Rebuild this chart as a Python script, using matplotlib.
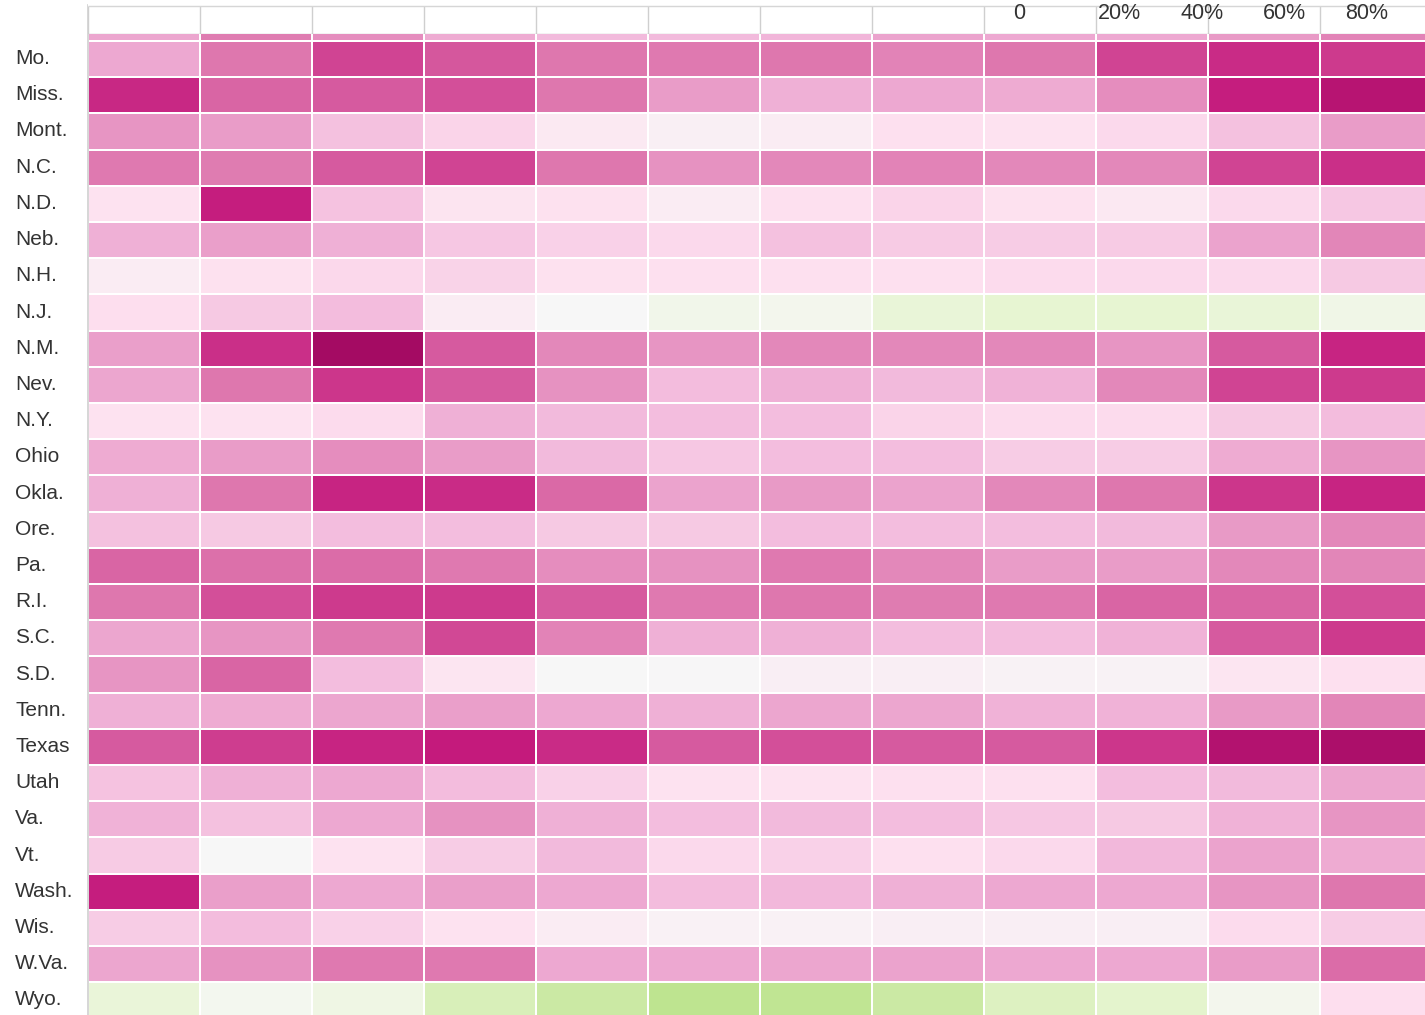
import matplotlib
matplotlib.use("Agg")
import matplotlib.pyplot as plt
import matplotlib.transforms as mtransforms
import numpy as np

plt.rcParams["font.family"] = ["Liberation Sans", "DejaVu Sans"]

# ---------------- data ----------------
states = ["Minn.", "Mo.", "Miss.", "Mont.", "N.C.", "N.D.", "Neb.", "N.H.", "N.J.",
          "N.M.", "Nev.", "N.Y.", "Ohio", "Okla.", "Ore.", "Pa.", "R.I.", "S.C.",
          "S.D.", "Tenn.", "Texas", "Utah", "Va.", "Vt.", "Wash.", "Wis.", "W.Va.", "Wyo."]

# change per state, 12 periods (fraction, -1..1)
change = [
    [0.45, 0.58, 0.53, 0.43, 0.38, 0.38, 0.40, 0.46, 0.44, 0.44, 0.49, 0.56],  # Minn.
    [0.44, 0.60, 0.71, 0.67, 0.60, 0.59, 0.60, 0.56, 0.60, 0.71, 0.76, 0.73],  # Mo.
    [0.77, 0.64, 0.66, 0.68, 0.60, 0.48, 0.42, 0.44, 0.43, 0.53, 0.79, 0.85],  # Miss.
    [0.50, 0.48, 0.35, 0.25, 0.12, 0.07, 0.10, 0.20, 0.18, 0.23, 0.35, 0.48],  # Mont.
    [0.59, 0.58, 0.66, 0.71, 0.60, 0.51, 0.54, 0.56, 0.54, 0.54, 0.71, 0.75],  # N.C.
    [0.18, 0.79, 0.34, 0.17, 0.19, 0.10, 0.20, 0.25, 0.19, 0.13, 0.23, 0.32],  # N.D.
    [0.42, 0.47, 0.42, 0.32, 0.27, 0.23, 0.35, 0.30, 0.29, 0.30, 0.46, 0.55],  # Neb.
    [0.10, 0.19, 0.24, 0.26, 0.19, 0.20, 0.20, 0.20, 0.22, 0.23, 0.23, 0.31],  # N.H.
    [0.21, 0.31, 0.37, 0.10, 0.00, -0.07, -0.05, -0.16, -0.19, -0.19, -0.16, -0.08],  # N.J.
    [0.47, 0.75, 0.92, 0.66, 0.54, 0.50, 0.54, 0.54, 0.54, 0.50, 0.66, 0.78],  # N.M.
    [0.45, 0.60, 0.74, 0.66, 0.51, 0.37, 0.42, 0.38, 0.41, 0.54, 0.71, 0.73],  # Nev.
    [0.18, 0.18, 0.22, 0.42, 0.38, 0.36, 0.36, 0.25, 0.22, 0.22, 0.31, 0.37],  # N.Y.
    [0.43, 0.48, 0.53, 0.48, 0.38, 0.32, 0.36, 0.36, 0.29, 0.29, 0.43, 0.50],  # Ohio
    [0.42, 0.60, 0.78, 0.76, 0.63, 0.46, 0.49, 0.46, 0.54, 0.60, 0.74, 0.78],  # Okla.
    [0.35, 0.31, 0.36, 0.36, 0.31, 0.31, 0.36, 0.36, 0.36, 0.38, 0.49, 0.54],  # Ore.
    [0.64, 0.61, 0.62, 0.59, 0.53, 0.51, 0.59, 0.54, 0.48, 0.48, 0.54, 0.55],  # Pa.
    [0.60, 0.68, 0.73, 0.73, 0.66, 0.59, 0.60, 0.58, 0.59, 0.64, 0.64, 0.68],  # R.I.
    [0.45, 0.50, 0.59, 0.70, 0.56, 0.42, 0.42, 0.36, 0.36, 0.41, 0.66, 0.73],  # S.C.
    [0.50, 0.64, 0.36, 0.16, 0.00, 0.01, 0.08, 0.08, 0.04, 0.04, 0.15, 0.20],  # S.D.
    [0.42, 0.43, 0.45, 0.47, 0.44, 0.42, 0.45, 0.45, 0.41, 0.41, 0.49, 0.55],  # Tenn.
    [0.66, 0.72, 0.78, 0.80, 0.76, 0.66, 0.68, 0.66, 0.66, 0.74, 0.86, 0.89],  # Texas
    [0.34, 0.42, 0.44, 0.37, 0.27, 0.18, 0.18, 0.20, 0.20, 0.36, 0.38, 0.45],  # Utah
    [0.41, 0.35, 0.44, 0.51, 0.42, 0.36, 0.38, 0.36, 0.32, 0.31, 0.41, 0.50],  # Va.
    [0.30, 0.00, 0.18, 0.29, 0.38, 0.23, 0.27, 0.20, 0.23, 0.39, 0.46, 0.43],  # Vt.
    [0.79, 0.47, 0.44, 0.47, 0.44, 0.37, 0.39, 0.42, 0.44, 0.44, 0.50, 0.60],  # Wash.
    [0.29, 0.37, 0.27, 0.18, 0.10, 0.05, 0.05, 0.08, 0.08, 0.08, 0.22, 0.29],  # Wis.
    [0.45, 0.51, 0.59, 0.59, 0.44, 0.44, 0.45, 0.46, 0.44, 0.44, 0.48, 0.62],  # W.Va.
    [-0.15, -0.04, -0.10, -0.26, -0.32, -0.37, -0.36, -0.32, -0.24, -0.21, -0.05, 0.21],  # Wyo.
]

legend_ticks = ["0", "20%", "40%", "60%", "80%"]

# ---------------- layout (pixels) ----------------
W, H = 1425, 1015
left, col_w = 88, 112
row_top, row_h = 4.8, 36.2
header_h = 34
grid_grey = "#cfcfcf"

data = np.array(change)
n_rows, n_cols = data.shape

fig = plt.figure(figsize=(W / 100, H / 100), dpi=100)
fig.patch.set_facecolor("white")

bottom = row_top + n_rows * row_h
ax = fig.add_axes([left / W, 1 - bottom / H, n_cols * col_w / W, (bottom - row_top) / H])
ax.pcolormesh(data, cmap="PiYG_r", vmin=-1, vmax=1, edgecolors="white", linewidth=1.1)
ax.set_xlim(0, n_cols)
ax.set_ylim(n_rows, 0)
for s in ax.spines.values():
    s.set_visible(False)
ax.set_xticks([])
labels = [""] + states[1:]  # first row sits under the header
ax.set_yticks(np.arange(n_rows) + 0.5)
ax.set_yticklabels(labels, fontsize=15, color="#333333", ha="left")
ax.tick_params(axis="y", length=0, pad=(left - 15) * 0.72)
# labels sit a touch above the row centre
lift = mtransforms.ScaledTranslation(0, 2.5 / 100, fig.dpi_scale_trans)
for t in ax.get_yticklabels():
    t.set_transform(t.get_transform() + lift)
ax.axvline(0, color=grid_grey, lw=1.2, zorder=5, clip_on=False)

# sticky header band over the first row
hax = fig.add_axes([left / W, 1 - header_h / H, n_cols * col_w / W, header_h / H])
hax.set_facecolor("white")
hax.set_xlim(0, n_cols)
hax.set_ylim(header_h, 0)
hax.vlines(np.arange(n_cols + 1), 6, header_h, color=grid_grey, lw=1.0)
hax.hlines([6], 0, n_cols, color="#d6d6d6", lw=1.0)
hax.hlines([header_h - 0.5], 0, n_cols, color="#c4c4c4", lw=1.0)
hax.set_xticks([])
hax.set_yticks([])
for s in hax.spines.values():
    s.set_visible(False)

# legend tick labels along the top edge
tick_x = [1019, 1119, 1202, 1284, 1367]
for tx, lab in zip(tick_x, legend_ticks):
    fig.text(tx / W, 1 - 19 / H, lab, ha="center", va="baseline",
             fontsize=15.5, color="#333333")

fig.savefig("out.png", dpi=100, facecolor="white")
